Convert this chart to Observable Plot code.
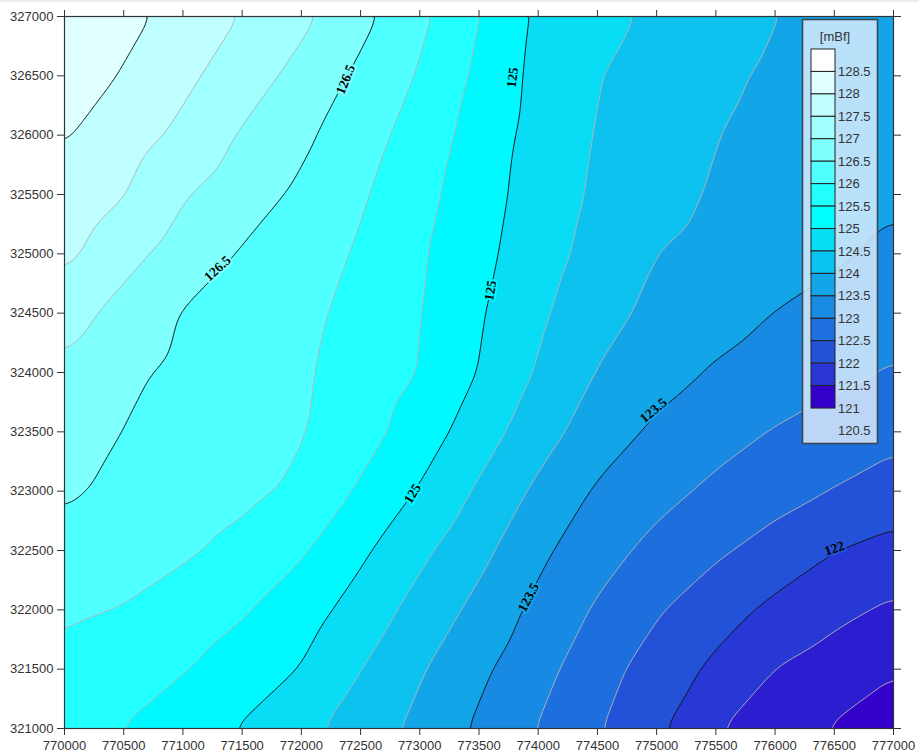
<!DOCTYPE html>
<html>
<head>
<meta charset="utf-8">
<script src="https://cdn.jsdelivr.net/npm/d3@7"></script>
<script src="https://cdn.jsdelivr.net/npm/@observablehq/plot@0.6"></script>
<style>
  html, body { margin: 0; padding: 0; background: #fff; }
  #wrap { position: relative; width: 919px; height: 756px; overflow: hidden; }
  #topline { position: absolute; left: 0; top: 0; width: 919px; height: 2px; background: #ececec; }
</style>
</head>
<body>
<div id="wrap"><div id="topline"></div></div>
<script>
// ---- grid coordinates (easting / northing) ----
const xs = [770000, 770500, 771000, 771500, 772000, 772500, 773000, 773500, 774000, 774500, 775000, 775500, 776000, 776500, 777000];
const ys = [327000, 326500, 326000, 325500, 325000, 324500, 324000, 323500, 323000, 322500, 322000, 321500, 321000];

// ---- values [mBf], one row per northing (top to bottom) ----
const z = [
  [128.45,128.15,127.82,127.48,127.12,126.65,126.12,125.51,124.91,124.65,124.41,124.21,124.01,123.86,123.72],
  [128.30,127.96,127.61,127.25,126.84,126.40,125.96,125.40,124.86,124.52,124.30,124.09,123.93,123.79,123.66],
  [128.04,127.73,127.39,126.95,126.60,126.21,125.79,125.29,124.82,124.47,124.24,124.01,123.87,123.73,123.59],
  [127.85,127.52,127.04,126.72,126.41,126.06,125.66,125.21,124.78,124.42,124.16,123.95,123.83,123.70,123.58],
  [127.62,127.17,126.78,126.46,126.21,125.95,125.56,125.14,124.71,124.33,124.00,123.86,123.72,123.57,123.40],
  [127.21,126.83,126.47,126.29,126.11,125.87,125.52,125.05,124.59,124.17,123.88,123.69,123.49,123.34,123.18],
  [126.90,126.60,126.39,126.23,126.06,125.80,125.49,124.98,124.45,123.98,123.69,123.45,123.28,123.12,122.96],
  [126.70,126.49,126.34,126.18,126.03,125.71,125.26,124.74,124.21,123.75,123.41,123.18,122.97,122.80,122.64],
  [126.56,126.41,126.26,126.12,125.91,125.43,124.96,124.43,123.90,123.44,123.15,122.90,122.69,122.48,122.27],
  [126.35,126.21,126.07,125.86,125.56,125.09,124.61,124.14,123.61,123.19,122.86,122.58,122.30,122.01,121.85],
  [126.08,125.98,125.77,125.55,125.22,124.80,124.32,123.86,123.37,122.94,122.55,122.20,121.89,121.63,121.41],
  [125.87,125.70,125.53,125.27,124.98,124.51,124.05,123.60,123.17,122.70,122.28,121.90,121.49,121.27,121.05],
  [125.72,125.49,125.23,124.96,124.64,124.27,123.86,123.42,122.98,122.54,122.09,121.53,121.24,120.96,120.68]
];

// ---- contour levels and colours ----
const levels = [120.5, 121, 121.5, 122, 122.5, 123, 123.5, 124, 124.5, 125, 125.5, 126, 126.5, 127, 127.5, 128];
const levelColors = ["#3300cc", "#2d1dd0", "#2838d5", "#2352d9", "#1e6fde", "#198ae3", "#12a6e8", "#0dc2ef",
                     "#08ddf5", "#00f8ff", "#22ffff", "#50ffff", "#80ffff", "#a0ffff", "#c0ffff", "#e0ffff"];
const minorLevels = [121, 121.5, 122.5, 123, 124, 124.5, 125.5, 126, 127, 127.5];
const majorLevels = [122, 123.5, 125, 126.5, 128];

// ---- contour line labels ----
const labelText  = ["126.5", "126.5", "125", "125", "125", "123.5", "123.5", "122"];
const labelValue = [126.5, 126.5, 125, 125, 125, 123.5, 123.5, 122];
const labelX     = [772373, 771292, 773783, 773597, 772938, 774973, 773918, 776502];
const labelY     = [326469, 324876, 326486, 324691, 322980, 323680, 322104, 322517];
const labelAngle = [-68, -43, -83, -80, -59, -40, -62, -19];

// ---- axis ticks ----
const xTicks = [770000, 770500, 771000, 771500, 772000, 772500, 773000, 773500, 774000, 774500, 775000, 775500, 776000, 776500, 777000];
const yTicks = [321000, 321500, 322000, 322500, 323000, 323500, 324000, 324500, 325000, 325500, 326000, 326500, 327000];

// ---- legend ----
const legendTitle = "[mBf]";
const legendLabels = ["128.5", "128", "127.5", "127", "126.5", "126", "125.5", "125", "124.5", "124", "123.5", "123", "122.5", "122", "121.5", "121", "120.5"];
const legendColors = ["#ffffff", "#e0ffff", "#c0ffff", "#a0ffff", "#80ffff", "#50ffff", "#22ffff", "#00ffff",
                      "#05ddf5", "#0bc3f0", "#12a6e8", "#198be3", "#1e70de", "#2452d9", "#2a36d4", "#3300cc"];

// table built from the arrays
const grid = [];
ys.forEach((yv, j) => xs.forEach((xv, i) => grid.push({x: xv, y: yv, v: z[j][i]})));
const labels = labelText.map((t, i) => ({t, v: labelValue[i], x: labelX[i], y: labelY[i], a: labelAngle[i]}));

const common = {x: "x", y: "y", interpolate: "barycentric", blur: 4, clip: true};

const chart = Plot.plot({
  width: 919,
  height: 756,
  marginLeft: 64,
  marginRight: 26,
  marginTop: 16,
  marginBottom: 28,
  x: {domain: [770000, 777000]},
  y: {domain: [321000, 327000]},
  color: {type: "ordinal", domain: levels, range: levelColors},
  style: {fontFamily: "'Liberation Sans', Arial, sans-serif", fontSize: "13px", color: "#333", background: "transparent"},
  marks: [
    Plot.contour(grid, {...common, fill: "v", thresholds: levels}),
    Plot.contour(grid, {...common, value: "v", thresholds: minorLevels, fill: "none", stroke: "#b4b4b4", strokeWidth: 1}),
    Plot.contour(grid, {...common, value: "v", thresholds: majorLevels, fill: "none", stroke: "#111", strokeWidth: 1}),
    Plot.text(labels, {
      x: "x", y: "y", text: "t", rotate: "a",
      fill: "#000", stroke: "v", strokeWidth: 4,
      fontFamily: "'Liberation Serif', 'Times New Roman', serif",
      fontSize: 13.5, fontWeight: "bold"
    }),
    Plot.frame({stroke: "#333", strokeWidth: 1.2}),
    Plot.axisX({anchor: "bottom", ticks: xTicks, tickSize: 7, tickPadding: 5, tickFormat: d => String(d), label: null, stroke: "#333"}),
    Plot.axisX({anchor: "top", ticks: xTicks, tickSize: 7, tickFormat: () => "", label: null, stroke: "#333"}),
    Plot.axisY({anchor: "left", ticks: yTicks, tickSize: 7, tickPadding: 4, tickFormat: d => String(d), label: null, stroke: "#333"}),
    Plot.axisY({anchor: "right", ticks: yTicks, tickSize: 7, tickFormat: () => "", label: null, stroke: "#333"})
  ]
});

const wrap = document.getElementById("wrap");
chart.style.position = "absolute";
chart.style.left = "0px";
chart.style.top = "0px";
wrap.appendChild(chart);

// ---- legend overlay ----
const leg = d3.select(wrap).append("svg")
  .attr("width", 919).attr("height", 756)
  .style("position", "absolute").style("left", "0px").style("top", "0px")
  .style("font-family", "'Liberation Sans', Arial, sans-serif");

leg.append("rect")
  .attr("x", 802.5).attr("y", 19.5).attr("width", 75).attr("height", 424)
  .attr("fill", "rgba(228,240,252,0.8)").attr("stroke", "#3d4752").attr("stroke-width", 1.6);

leg.append("text")
  .attr("x", 835).attr("y", 41).attr("text-anchor", "middle")
  .attr("font-size", 13).attr("fill", "#333").text(legendTitle);

const boxTop = 49, boxH = 22.44, boxX = 811, boxW = 24;
legendColors.forEach((c, k) => {
  leg.append("rect")
    .attr("x", boxX).attr("y", boxTop + k * boxH).attr("width", boxW).attr("height", boxH)
    .attr("fill", c).attr("stroke", "#222").attr("stroke-width", 1);
});
legendLabels.forEach((t, k) => {
  leg.append("text")
    .attr("x", boxX + boxW + 3).attr("y", boxTop + (k + 1) * boxH)
    .attr("dy", "0.35em").attr("font-size", 13).attr("fill", "#333").text(t);
});
</script>
</body>
</html>
